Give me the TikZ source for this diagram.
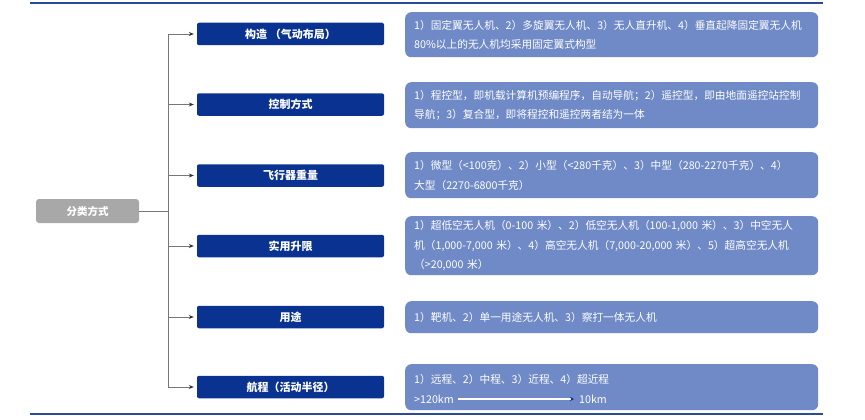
\documentclass[tikz,border=0pt]{standalone}
\usepackage{fontspec}
\setmainfont{Noto Sans CJK SC}
\usetikzlibrary{arrows.meta}
\definecolor{navy}{HTML}{0A3291}
\definecolor{boxblue}{HTML}{6F8AC6}
\definecolor{rootgray}{HTML}{A8A8A8}
\definecolor{rulecol}{HTML}{2A4A9A}
\definecolor{linegray}{HTML}{777777}
\tikzset{
  catbox/.style={fill=navy, rounded corners=2pt, minimum width=187pt, minimum height=22.5pt, inner sep=0pt, text=white, font=\fontsize{11}{13}\selectfont\bfseries},
  rootbox/.style={fill=rootgray, rounded corners=3pt, minimum width=103pt, minimum height=24pt, inner sep=0pt, text=white, font=\fontsize{10.5}{12}\selectfont\bfseries},
  descbox/.style={fill=boxblue, rounded corners=6pt, minimum width=413pt, inner xsep=9pt, inner ysep=0pt, text width=395pt, align=left, anchor=north west, text=white, font=\fontsize{10.7}{19.5}\selectfont},
  desctext/.style={text=white, inner sep=0pt, font=\fontsize{10.7}{12}\selectfont},
  branch/.style={draw=linegray, line width=0.8pt},
  brarrow/.style={draw=linegray, line width=0.8pt, -{Stealth[length=5pt,width=4pt,black!80]}},
  rule/.style={draw=rulecol, line width=2pt}
}
\begin{document}
\begin{tikzpicture}[x=1pt,y=-1pt]
\useasboundingbox (0,0) rectangle (865,420);
% rules
\coordinate (tl) at (30,3.5); \coordinate (tr) at (823,3.5);
\coordinate (bl) at (30,414); \coordinate (br) at (823,414);
\draw[rule] (tl) -- (tr);
\draw[rule] (bl) -- (br);
% root
\node[rootbox] (root) at (87.5,211) {分类方式};
% categories
\node[catbox] (c1) at (290.5,34) {构造 （气动布局）};
\node[catbox] (c2) at (290.5,104.5) {控制方式};
\node[catbox] (c3) at (290.5,175.5) {飞行器重量};
\node[catbox] (c4) at (290.5,246) {实用升限};
\node[catbox] (c5) at (290.5,317) {用途};
\node[catbox] (c6) at (290.5,387) {航程（活动半径）};
% trunk
\coordinate (j0) at (168,211);
\coordinate (j1) at (168,34);
\coordinate (j2) at (168,104.5);
\coordinate (j3) at (168,175.5);
\coordinate (j4) at (168,246);
\coordinate (j5) at (168,317);
\coordinate (j6) at (168,387);
\draw[branch] (root.east) -- (j0);
\draw[branch] (j1) -- (j6);
\foreach \i in {1,...,6} {\draw[brarrow] (j\i) -- ([xshift=-3pt]c\i.west);}
% descriptions
\node[descbox, minimum height=45pt] (d1) at (405,12) {1）固定翼无人机、2）多旋翼无人机、3）无人直升机、4）垂直起降固定翼无人机\\80\%以上的无人机均采用固定翼式构型};
\node[descbox, minimum height=46pt] (d2) at (405,82) {1）程控型，即机载计算机预编程序，自动导航；2）遥控型，即由地面遥控站控制\\导航；3）复合型，即将程控和遥控两者结为一体};
\node[descbox, minimum height=46pt] (d3) at (405,152) {1）微型（<100克）、2）小型（<280千克）、3）中型（280-2270千克）、4）\\大型（2270-6800千克）};
\node[descbox, minimum height=59pt] (d4) at (405,216) {1）超低空无人机（0-100 米）、2）低空无人机（100-1,000 米）、3）中空无人\\机（1,000-7,000 米）、4）高空无人机（7,000-20,000 米）、5）超高空无人机\\（>20,000 米）};
\node[descbox, minimum height=32pt] (d5) at (405,301) {1）靶机、2）单一用途无人机、3）察打一体无人机};
\node[descbox, minimum height=46pt] (d6) at (405,364) {};
\node[desctext, anchor=west] (d6a) at (414,379) {1）远程、2）中程、3）近程、4）超近程};
\node[desctext, anchor=west] (far) at (414,399) {>120km};
\node[desctext, anchor=west] (near) at (579,399) {10km};
\draw[draw=navy, double=white, double distance=1.4pt, line width=0.5pt, -{Stealth[length=4pt,width=4pt,fill=navy]}] ([xshift=4pt]far.east) -- ([xshift=-5pt]near.west);
\end{tikzpicture}
\end{document}
